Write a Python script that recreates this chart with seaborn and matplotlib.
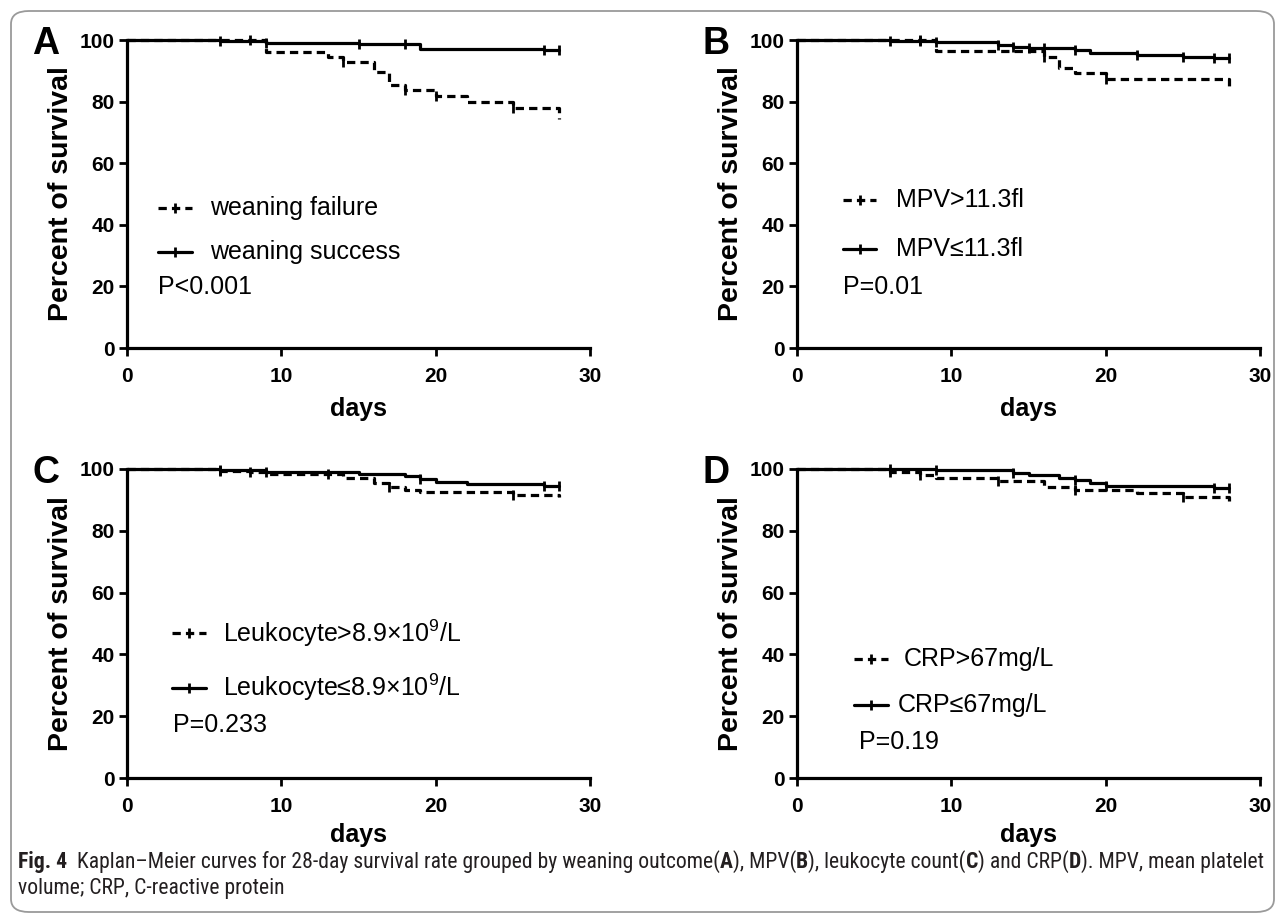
import matplotlib
matplotlib.use("Agg")
import matplotlib.pyplot as plt
import seaborn as sns
import pandas as pd
from matplotlib import font_manager
from matplotlib.patches import FancyBboxPatch

sns.set_theme(style="ticks")
plt.rcParams['font.family'] = ['Liberation Sans', 'DejaVu Sans']
plt.rcParams['text.color'] = 'black'
plt.rcParams['axes.labelcolor'] = 'black'
plt.rcParams['xtick.color'] = 'black'
plt.rcParams['ytick.color'] = 'black'
plt.rcParams['mathtext.fontset'] = 'custom'
plt.rcParams['mathtext.rm'] = 'Liberation Sans'
plt.rcParams['mathtext.it'] = 'Liberation Sans:italic'
plt.rcParams['mathtext.bf'] = 'Liberation Sans:bold'

# ---- Kaplan-Meier step data (days, percent surviving) and censoring times ----
# A: weaning outcome
a_fail_t = [0, 9, 13, 14, 16, 17, 18, 20, 22, 25, 28]
a_fail_s = [100, 96.2, 94.5, 92.9, 89.5, 85.3, 83.7, 81.8, 79.9, 78.0, 74.3]
a_fail_c = [8, 14, 18, 20, 25]
a_succ_t = [0, 6, 9, 15, 19, 27, 28]
a_succ_s = [100, 99.6, 99.1, 98.7, 97.2, 96.6, 96.6]
a_succ_c = [6, 9, 15, 18, 27, 28]

# B: MPV
b_high_t = [0, 9, 16, 17, 18, 20, 28]
b_high_s = [100, 96.4, 94.6, 91.0, 89.2, 87.5, 84.3]
b_high_c = [8, 16, 20]
b_low_t = [0, 6, 9, 13, 14, 15, 18, 19, 22, 25, 27, 28]
b_low_s = [100, 99.8, 99.2, 98.4, 97.8, 97.3, 96.8, 95.7, 95.1, 94.6, 94.0, 94.0]
b_low_c = [6, 8, 9, 13, 14, 15, 16, 18, 22, 25, 27, 28]

# C: leukocyte count
c_high_t = [0, 6, 8, 9, 14, 16, 17, 18, 19, 25, 28]
c_high_s = [100, 99.5, 98.9, 98.5, 97.1, 95.5, 94.2, 93.3, 92.5, 91.7, 91.1]
c_high_c = [6, 8, 13, 17, 25]
c_low_t = [0, 6, 9, 15, 18, 19, 20, 22, 27, 28]
c_low_s = [100, 99.6, 99.0, 98.4, 97.6, 96.8, 95.8, 95.1, 94.4, 94.4]
c_low_c = [6, 9, 19, 27, 28]

# D: CRP
d_high_t = [0, 6, 8, 9, 13, 16, 18, 22, 25, 28]
d_high_s = [100, 98.9, 98.2, 97.1, 96.0, 94.1, 93.1, 92.2, 91.1, 89.5]
d_high_c = [6, 8, 13, 18, 25]
d_low_t = [0, 9, 14, 15, 17, 18, 19, 20, 27, 28]
d_low_s = [100, 99.6, 98.7, 98.2, 97.1, 96.3, 95.5, 94.5, 93.7, 93.7]
d_low_c = [6, 9, 14, 18, 20, 27, 28]

panel_letters = ['A', 'B', 'C', 'D']
group_labels = [
    ('weaning failure', 'weaning success'),
    ('MPV>11.3fl', 'MPV\u226411.3fl'),
    ('Leukocyte>8.9\u00d710$^{9}$/L', 'Leukocyte\u22648.9\u00d710$^{9}$/L'),
    ('CRP>67mg/L', 'CRP\u226467mg/L'),
]
p_values = ['P<0.001', 'P=0.01', 'P=0.233', 'P=0.19']
x_ticks = [0, 10, 20, 30]
y_ticks = [0, 20, 40, 60, 80, 100]

curves = [
    ((a_fail_t, a_fail_s, a_fail_c), (a_succ_t, a_succ_s, a_succ_c)),
    ((b_high_t, b_high_s, b_high_c), (b_low_t, b_low_s, b_low_c)),
    ((c_high_t, c_high_s, c_high_c), (c_low_t, c_low_s, c_low_c)),
    ((d_high_t, d_high_s, d_high_c), (d_low_t, d_low_s, d_low_c)),
]

# legend placement per panel:
# (dashed y, solid y, p y, sample x0, sample x1, dashed text x, solid text x, p x)
legend_pos = [
    (45.5, 31.2, 19.8, 2.0, 4.2, 5.4, 5.4, 2.0),
    (48.1, 32.0, 19.9, 3.0, 5.1, 6.4, 6.4, 3.0),
    (46.9, 29.2, 17.0, 2.9, 5.1, 6.2, 6.2, 3.0),
    (38.5, 23.5, 11.5, 3.7, 5.9, 6.9, 6.5, 4.0),
]

W, H = 1285, 923
fig = plt.figure(figsize=(W / 100, H / 100), dpi=100)
fig.patch.set_facecolor('white')

DASH = (0, (2.6, 1.6))
LW = 2.3


def add_axes_px(x0, x1, ytop, ybot):
    return fig.add_axes([x0 / W, 1 - ybot / H, (x1 - x0) / W, (ybot - ytop) / H])


def km_curve(ax, times, surv, cens, dashed):
    df = pd.DataFrame({'days': times, 'survival': surv})
    sns.lineplot(data=df, x='days', y='survival', ax=ax, color='black', lw=LW,
                 drawstyle='steps-post', estimator=None, sort=False,
                 linestyle=DASH if dashed else '-', clip_on=False)
    cs = [surv[max(i for i, t in enumerate(times) if t <= c)] for c in cens]
    sns.scatterplot(x=cens, y=cs, ax=ax, marker='|', s=45, color='black',
                    linewidth=2.0, clip_on=False, zorder=3)


boxes = [(127, 590, 40, 348), (797, 1260, 40, 348),
         (127, 590, 469, 778), (797, 1260, 469, 778)]

for i, (x0, x1, yt, yb) in enumerate(boxes):
    ax = add_axes_px(x0, x1, yt, yb)
    ax.set_facecolor('none')
    (ht, hs, hc), (lt, ls, lc) = curves[i]
    km_curve(ax, lt, ls, lc, dashed=False)
    km_curve(ax, ht, hs, hc, dashed=True)

    ax.set_xlim(0, 30)
    ax.set_ylim(0, 100)
    ax.set_xticks(x_ticks)
    ax.set_yticks(y_ticks)
    sns.despine(ax=ax)
    for s in ('left', 'bottom'):
        ax.spines[s].set_linewidth(2.3)
        ax.spines[s].set_color('black')
    ax.tick_params(direction='out', length=6, width=2.0, labelsize=15,
                   colors='black')
    ax.tick_params(axis='x', pad=8)
    ax.tick_params(axis='y', pad=3)
    for lbl in ax.get_xticklabels() + ax.get_yticklabels():
        lbl.set_fontweight('bold')
    ax.set_xlabel('days', fontsize=18, fontweight='bold')
    ax.set_ylabel('Percent of survival', fontsize=20.5, fontweight='bold')
    ax.xaxis.set_label_coords(0.5, -0.16 if i < 2 else -0.145)
    ax.yaxis.set_label_coords(-0.115, 0.5)

    # legend and p-value
    dy, sy, py, sx0, sx1, tdx, tsx, px = legend_pos[i]
    lab_h, lab_l = group_labels[i]
    xm = (sx0 + sx1) / 2
    ax.plot([sx0, sx1], [dy, dy], color='black', lw=LW, linestyle=DASH)
    ax.plot([xm], [dy], marker='|', ms=7, mew=2, color='black')
    ax.plot([sx0, sx1], [sy, sy], color='black', lw=LW)
    ax.plot([xm], [sy], marker='|', ms=7, mew=2, color='black')
    ax.text(tdx, dy, lab_h, fontsize=18, va='center', ha='left')
    ax.text(tsx, sy, lab_l, fontsize=18, va='center', ha='left')
    ax.text(px, py, p_values[i], fontsize=18, va='center', ha='left')

    fig.text((x0 - 81) / W, 1 - (yt + 14) / H, panel_letters[i], fontsize=27,
             fontweight='bold', ha='center', va='baseline')

# rounded frame around the whole figure
frame = FancyBboxPatch((11 / W, 11 / H), (W - 22) / W, (H - 22) / H,
                       boxstyle='round,pad=0,rounding_size=0.014',
                       transform=fig.transFigure, facecolor='none',
                       edgecolor='#9a9a9a', lw=1.3, zorder=-1)
fig.patches.append(frame)

# caption font: prefer a condensed sans face when one is installed
cap_family, cap_stretch = 'Liberation Sans', 'normal'
names = {f.name for f in font_manager.fontManager.ttflist}
condensed = {(f.name, f.stretch) for f in font_manager.fontManager.ttflist}
for nm in ('Liberation Sans Narrow', 'Roboto Condensed', 'Open Sans Condensed'):
    if nm in names:
        cap_family = nm
        break
else:
    for nm in ('Noto Sans', 'Open Sans', 'DejaVu Sans', 'Roboto'):
        if (nm, 'condensed') in condensed or (nm, 'semi-condensed') in condensed:
            cap_family = nm
            cap_stretch = 'condensed' if (nm, 'condensed') in condensed else 'semi-condensed'
            break

cap_color = '#231f20'
line1 = [('Fig. 4', 'bold'),
         ('  Kaplan\u2013Meier curves for 28-day survival rate grouped by weaning outcome(', 'normal'),
         ('A', 'bold'), ('), MPV(', 'normal'), ('B', 'bold'),
         ('), leukocyte count(', 'normal'), ('C', 'bold'), (') and CRP(', 'normal'),
         ('D', 'bold'), ('). MPV, mean platelet', 'normal')]
line2 = [('volume; CRP, C-reactive protein', 'normal')]

fig.canvas.draw()
renderer = fig.canvas.get_renderer()


def run_width(s, weight, size):
    kw = dict(fontsize=size, fontweight=weight, family=cap_family, fontstretch=cap_stretch)
    t1 = fig.text(0, 0, '|' + s + '|', **kw)
    t2 = fig.text(0, 0, '||', **kw)
    w = t1.get_window_extent(renderer).width - t2.get_window_extent(renderer).width
    t1.remove()
    t2.remove()
    return w


base_size = 13.0
total = sum(run_width(s, w, base_size) for s, w in line1)
cap_size = base_size * (1263 - 18) / total


def draw_runs(runs, x, y):
    for s, w in runs:
        fig.text(x / W, 1 - y / H, s, fontsize=cap_size, fontweight=w,
                 family=cap_family, fontstretch=cap_stretch, color=cap_color,
                 ha='left', va='baseline')
        x += run_width(s, w, cap_size)


draw_runs(line1, 18, 868)
draw_runs(line2, 18, 894)

fig.savefig('out.png', dpi=100, facecolor='white')
